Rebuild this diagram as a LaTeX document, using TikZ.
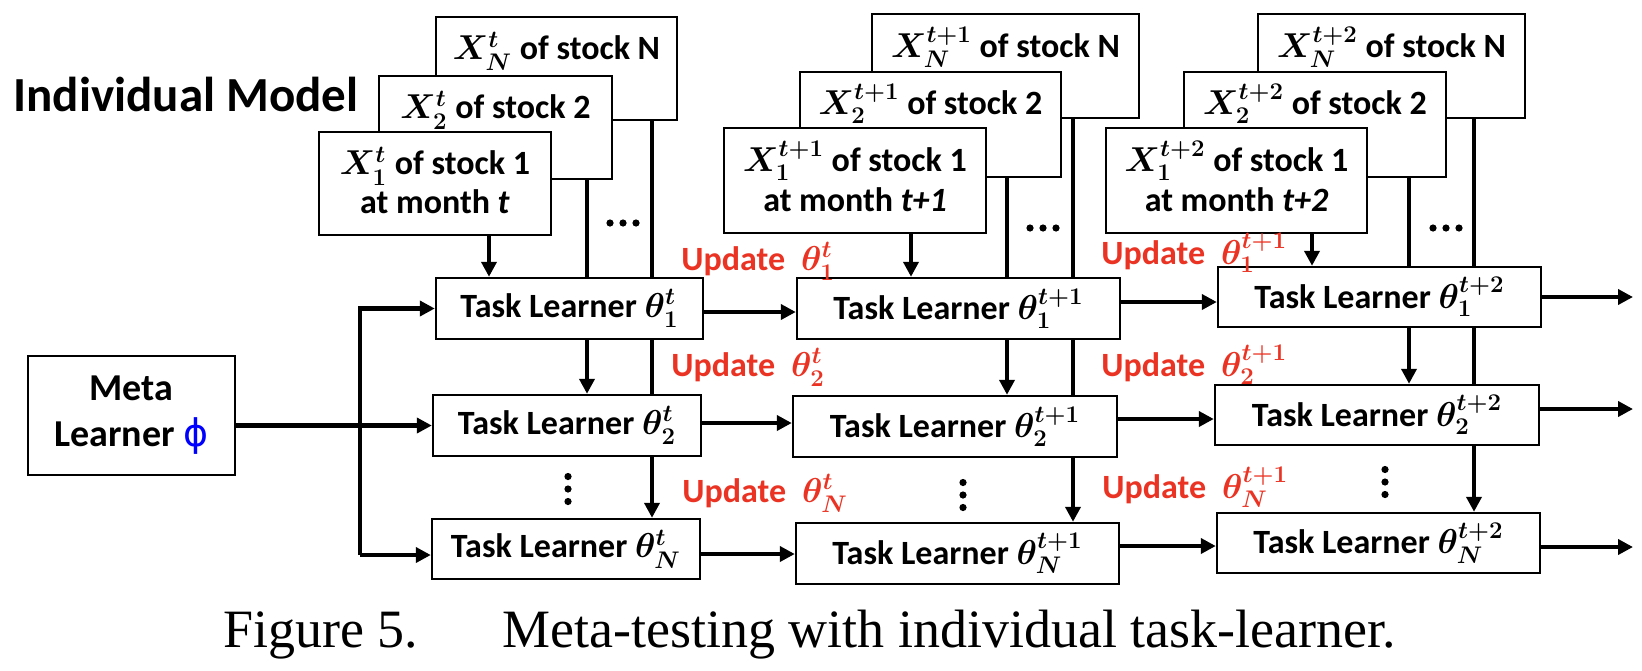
\documentclass[tikz,border=0pt]{standalone}
\usepackage{amsmath}
\usepackage{fontspec}
\setmainfont{Carlito}
\newfontfamily\capfont{Liberation Serif}
\newfontfamily\phifont{DejaVu Sans}
\usetikzlibrary{arrows.meta}
\definecolor{updred}{RGB}{234,51,35}
\definecolor{phiblue}{RGB}{0,0,255}
\newcommand\mth[1]{{\fontsize{18.5}{20}\selectfont$#1$}}
\begin{document}
\begin{tikzpicture}[x=0.5pt,y=-0.5pt,
  box/.style={draw, line width=1.2pt, fill=white, inner sep=0pt},
  tl/.style={box, align=center, font=\bfseries\boldmath\fontsize{17}{20}\selectfont},
  lab/.style={font=\bfseries\boldmath\fontsize{17}{20}\selectfont, inner sep=0pt, anchor=base},
  upd/.style={font=\bfseries\boldmath\fontsize{17}{20}\selectfont, inner sep=0pt, anchor=base west, text=updred},
  conn/.style={line width=2.3pt},
  arr/.style={conn, -{Triangle[length=7.5pt,width=7.5pt]}}]
\useasboundingbox (0,0) rectangle (1642,670);

% title
\node[anchor=base west, inner sep=0pt, font=\bfseries\fontsize{24.5}{28}\selectfont] (title) at (13,111) {Individual Model};

% meta learner
\node[box, minimum width=103.5pt, minimum height=59.5pt, align=center,
      font=\bfseries\fontsize{19}{23}\selectfont] (meta) at (131.5,415.5)
      {Meta\\Learner {\phifont\mdseries\color{phiblue}ϕ}};

% ---------- column t ----------
\node[box, minimum width=120.5pt, minimum height=51.5pt] (xn1) at (556.5,68.5) {};
\node[lab] (xn1t) at ([yshift=-22pt]xn1.north) {\mth{X_N^{t}} of stock N};
\node[box, minimum width=116.5pt, minimum height=51.5pt] (x21) at (495.5,127.5) {};
\node[lab] (x21t) at ([yshift=-22pt]x21.north) {\mth{X_2^{t}} of stock 2};
\node[box, minimum width=116pt, minimum height=51.5pt] (x11) at (435,183.5) {};
\node[lab] (x11t) at ([yshift=-22pt]x11.north) {\mth{X_1^{t}} of stock 1};
\node[lab] (x11u) at ([yshift=-41.5pt]x11.north) {at month \textit{t}};

\node[tl, minimum width=133.5pt, minimum height=30.5pt] (tl11) at (569.5,308.5) {Task Learner \mth{\theta_1^{t}}};
\node[tl, minimum width=134pt, minimum height=30.5pt] (tl21) at (567,425.5) {Task Learner \mth{\theta_2^{t}}};
\node[tl, minimum width=134pt, minimum height=30pt] (tln1) at (566,549) {Task Learner \mth{\theta_N^{t}}};

% ---------- column t+1 ----------
\node[box, minimum width=133.5pt, minimum height=52pt] (xn2) at (1005.5,66) {};
\node[lab] (xn2t) at ([yshift=-22.5pt]xn2.north) {\mth{X_N^{t+1}} of stock N};
\node[box, minimum width=130.5pt, minimum height=52.5pt] (x22) at (930.5,124.5) {};
\node[lab] (x22t) at ([yshift=-22pt]x22.north) {\mth{X_2^{t+1}} of stock 2};
\node[box, minimum width=131pt, minimum height=52.5pt] (x12) at (855,180.5) {};
\node[lab] (x12t) at ([yshift=-22.5pt]x12.north) {\mth{X_1^{t+1}} of stock 1};
\node[lab] (x12u) at ([yshift=-42.5pt]x12.north) {at month \textit{t+1}};

\node[tl, minimum width=161.5pt, minimum height=30.5pt] (tl12) at (958.5,308.5) {Task Learner \mth{\theta_1^{t+1}}};
\node[tl, minimum width=162pt, minimum height=30.5pt] (tl22) at (955,426.5) {Task Learner \mth{\theta_2^{t+1}}};
\node[tl, minimum width=161.5pt, minimum height=30.5pt] (tln2) at (957.5,553.5) {Task Learner \mth{\theta_N^{t+1}}};

% ---------- column t+2 ----------
\node[box, minimum width=133.5pt, minimum height=52pt] (xn3) at (1391.5,66) {};
\node[lab] (xn3t) at ([yshift=-22.5pt]xn3.north) {\mth{X_N^{t+2}} of stock N};
\node[box, minimum width=131pt, minimum height=52.5pt] (x23) at (1315,124.5) {};
\node[lab] (x23t) at ([yshift=-22pt]x23.north) {\mth{X_2^{t+2}} of stock 2};
\node[box, minimum width=130.5pt, minimum height=52.5pt] (x13) at (1236.5,180.5) {};
\node[lab] (x13t) at ([yshift=-22.5pt]x13.north) {\mth{X_1^{t+2}} of stock 1};
\node[lab] (x13u) at ([yshift=-42.5pt]x13.north) {at month \textit{t+2}};

\node[tl, minimum width=161.5pt, minimum height=30pt] (tl13) at (1379.5,297) {Task Learner \mth{\theta_1^{t+2}}};
\node[tl, minimum width=162pt, minimum height=30pt] (tl23) at (1377,415) {Task Learner \mth{\theta_2^{t+2}}};
\node[tl, minimum width=161.5pt, minimum height=30pt] (tln3) at (1378.5,543) {Task Learner \mth{\theta_N^{t+2}}};

% ---------- update labels ----------
\node[upd] (u11) at (681,270) {Update\hspace{8pt}\mth{\theta_1^{t}}};
\node[upd] (u21) at (671,376) {Update\hspace{8pt}\mth{\theta_2^{t}}};
\node[upd] (un1) at (682,502) {Update\hspace{8pt}\mth{\theta_N^{t}}};
\node[upd] (u12) at (1101,264) {Update\hspace{8pt}\mth{\theta_1^{t+1}}};
\node[upd] (u22) at (1101,376) {Update\hspace{8pt}\mth{\theta_2^{t+1}}};
\node[upd] (un2) at (1102,498) {Update\hspace{8pt}\mth{\theta_N^{t+1}}};

% ---------- meta learner to column t ----------
\coordinate (bt) at (360,308.5);
\coordinate (bb) at (360,555);
\draw[arr] (bb) -- (bt) -- (tl11.west);
\draw[arr] (bb) -- (bb -| tln1.west);
\draw[arr] (meta.east |- tl21.west) -- (tl21.west);

% ---------- vertical feeds ----------
\coordinate (a1) at (489,0);  \coordinate (b1) at (587,0);  \coordinate (c1) at (652,0);
\coordinate (a2) at (911,0);  \coordinate (b2) at (1007,0); \coordinate (c2) at (1073,0);
\coordinate (a3) at (1312,0); \coordinate (b3) at (1409,0); \coordinate (c3) at (1474,0);

\draw[arr]  (x11.south -| a1) -- (tl11.north -| a1);
\draw[conn] (x21.south -| b1) -- (tl11.north -| b1);
\draw[arr]  (tl11.south -| b1) -- (tl21.north -| b1);
\draw[conn] (xn1.south -| c1) -- (tl11.north -| c1);
\draw[conn] (tl11.south -| c1) -- (tl21.north -| c1);
\draw[arr]  (tl21.south -| c1) -- (tln1.north -| c1);

\draw[arr]  (x12.south -| a2) -- (tl12.north -| a2);
\draw[conn] (x22.south -| b2) -- (tl12.north -| b2);
\draw[arr]  (tl12.south -| b2) -- (tl22.north -| b2);
\draw[conn] (xn2.south -| c2) -- (tl12.north -| c2);
\draw[conn] (tl12.south -| c2) -- (tl22.north -| c2);
\draw[arr]  (tl22.south -| c2) -- (tln2.north -| c2);

\draw[arr]  (x13.south -| a3) -- (tl13.north -| a3);
\draw[conn] (x23.south -| b3) -- (tl13.north -| b3);
\draw[arr]  (tl13.south -| b3) -- (tl23.north -| b3);
\draw[conn] (xn3.south -| c3) -- (tl13.north -| c3);
\draw[conn] (tl13.south -| c3) -- (tl23.north -| c3);
\draw[arr]  (tl23.south -| c3) -- (tln3.north -| c3);

% ---------- horizontal links ----------
\path ([yshift=-1.75pt]tl11.east) coordinate (h11);
\path ([yshift=1.25pt]tl21.east) coordinate (h21);
\path ([yshift=-2.5pt]tln1.east) coordinate (hn1);
\draw[arr] (h11) -- (h11 -| tl12.west);
\draw[arr] (h21) -- (h21 -| tl22.west);
\draw[arr] (hn1) -- (hn1 -| tln2.west);

\path ([yshift=3.25pt]tl12.east) coordinate (h12);
\path ([yshift=3.75pt]tl22.east) coordinate (h22);
\path ([yshift=3.75pt]tln2.east) coordinate (hn2);
\draw[arr] (h12) -- (h12 -| tl13.west);
\draw[arr] (h22) -- (h22 -| tl23.west);
\draw[arr] (hn2) -- (hn2 -| tln3.west);

\coordinate (fin) at (1633,0);
\path (tl13.east) coordinate (h13);
\path ([yshift=3pt]tl23.east) coordinate (h23);
\path ([yshift=-2pt]tln3.east) coordinate (hn3);
\draw[arr] (h13) -- (h13 -| fin);
\draw[arr] (h23) -- (h23 -| fin);
\draw[arr] (hn3) -- (hn3 -| fin);

% ---------- dots ----------
\foreach \cx/\cy in {623/223, 1043/228, 1446/228}
  \foreach \d in {-13,0,13}
    \fill (\cx+\d,\cy) circle [radius=1.8pt];
\foreach \cx/\cy in {568/489, 963/495, 1385/482}
  \foreach \d in {-12.5,0,12.5}
    \fill (\cx,\cy+\d) circle [radius=1.8pt];

% ---------- caption ----------
\node[anchor=base west, inner sep=0pt, font=\capfont\fontsize{27}{30}\selectfont] (cap) at (223,647)
  {Figure 5.\hspace{42pt}Meta-testing with individual task-learner.};
\end{tikzpicture}
\end{document}
